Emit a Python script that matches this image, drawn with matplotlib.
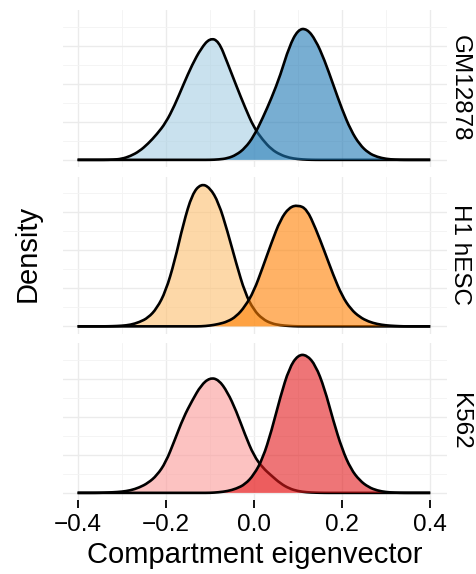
import matplotlib
matplotlib.use("Agg")
import matplotlib.pyplot as plt
from matplotlib.path import Path
from matplotlib.patches import PathPatch

plt.rcParams['font.family'] = ['Liberation Sans', 'DejaVu Sans']

# ---- data ----
cell_lines = ["GM12878", "H1 hESC", "K562"]

x_grid = [-0.40, -0.38, -0.36, -0.34, -0.32, -0.30, -0.28, -0.26, -0.24, -0.22,
          -0.20, -0.18, -0.16, -0.14, -0.12, -0.10, -0.08, -0.06, -0.04, -0.02,
          0.00, 0.02, 0.04, 0.06, 0.08, 0.10, 0.12, 0.14, 0.16, 0.18,
          0.20, 0.22, 0.24, 0.26, 0.28, 0.30, 0.32, 0.34, 0.36, 0.38, 0.40]

gm_B = [0, 0, 0, 0, 0.01, 0.05, 0.20, 0.45, 0.85, 1.35, 1.95, 2.85, 3.95, 5.00,
        5.85, 6.40, 6.25, 5.10, 3.90, 2.75, 1.70, 1.05, 0.55, 0.27, 0.11, 0.04,
        0.01, 0, 0, 0, 0, 0, 0, 0, 0, 0, 0, 0, 0, 0, 0]
gm_A = [0, 0, 0, 0, 0, 0, 0, 0, 0, 0, 0, 0, 0, 0, 0, 0, 0.02, 0.08, 0.26, 0.62,
        1.25, 2.20, 3.25, 4.45, 5.95, 6.85, 6.90, 6.30, 5.25, 3.95, 2.65, 1.55,
        0.80, 0.36, 0.15, 0.05, 0.01, 0, 0, 0, 0]
h1_B = [0, 0, 0, 0, 0.01, 0.03, 0.08, 0.22, 0.45, 0.95, 1.85, 3.40, 5.40, 6.95,
        7.50, 7.30, 6.50, 5.00, 3.30, 1.75, 0.85, 0.38, 0.15, 0.06, 0.02, 0,
        0, 0, 0, 0, 0, 0, 0, 0, 0, 0, 0, 0, 0, 0, 0]
h1_A = [0, 0, 0, 0, 0, 0, 0, 0, 0, 0, 0, 0, 0, 0, 0, 0.04, 0.12, 0.25, 0.52, 1.05,
        1.85, 3.10, 4.40, 5.60, 6.25, 6.38, 6.16, 5.15, 3.95, 2.70, 1.60, 0.90,
        0.49, 0.25, 0.12, 0.05, 0.02, 0, 0, 0, 0]
k5_B = [0, 0, 0, 0.01, 0.03, 0.06, 0.13, 0.28, 0.52, 0.92, 1.60, 2.75, 3.95, 4.85,
        5.65, 6.05, 5.95, 5.30, 4.30, 3.05, 1.95, 1.32, 0.90, 0.50, 0.23, 0.09,
        0.03, 0.01, 0, 0, 0, 0, 0, 0, 0, 0, 0, 0, 0, 0, 0]
k5_A = [0, 0, 0, 0, 0, 0, 0, 0, 0, 0, 0, 0, 0, 0, 0, 0, 0.03, 0.09, 0.22, 0.45,
        0.95, 1.80, 3.26, 5.05, 6.55, 7.25, 7.25, 6.70, 5.50, 3.80, 2.30, 1.25,
        0.65, 0.30, 0.12, 0.04, 0.01, 0, 0, 0, 0]

light_series = [gm_B, h1_B, k5_B]
dark_series = [gm_A, h1_A, k5_A]
light_colors = ["#a6cee3", "#fdbf6f", "#fb9a99"]
dark_colors = ["#1f78b4", "#ff7f00", "#e31a1c"]

x_ticks = [-0.4, -0.2, 0.0, 0.2, 0.4]
x_tick_labels = ["\u22120.4", "\u22120.2", "0.0", "0.2", "0.4"]
x_minor = [-0.3, -0.1, 0.1, 0.3]
y_major = [0, 2, 4, 6]
y_minor = [1, 3, 5, 7]


def density_paths(xs, ys):
    """Smooth outline (quadratic Bezier through data points) + closed fill path."""
    pts = list(zip(xs, ys))
    mids = [((pts[i][0] + pts[i + 1][0]) / 2, (pts[i][1] + pts[i + 1][1]) / 2)
            for i in range(len(pts) - 1)]
    verts = [pts[0], mids[0]]
    codes = [Path.MOVETO, Path.LINETO]
    for i in range(1, len(pts) - 1):
        verts += [pts[i], mids[i]]
        codes += [Path.CURVE3, Path.CURVE3]
    verts.append(pts[-1])
    codes.append(Path.LINETO)
    line = Path(verts, codes)
    fverts = verts + [(xs[-1], 0), (xs[0], 0), (xs[0], 0)]
    fcodes = codes + [Path.LINETO, Path.LINETO, Path.CLOSEPOLY]
    fill = Path(fverts, fcodes)
    return line, fill


# ---- figure ----
W, H = 477, 574
fig = plt.figure(figsize=(W / 100, H / 100), dpi=100)

left_px, width_px = 63, 384
tops_px = [10, 176.5, 343]
height_px = 157

ymax = max(max(s) for s in light_series + dark_series)
ylo, yhi = -0.05 * ymax, 1.05 * ymax

for i, name in enumerate(cell_lines):
    top = tops_px[i]
    ax = fig.add_axes([left_px / W, 1 - (top + height_px) / H, width_px / W, height_px / H])
    ax.set_xlim(-0.433, 0.438)
    ax.set_ylim(ylo, yhi)
    ax.set_xticks(x_ticks)
    ax.set_xticks(x_minor, minor=True)
    ax.set_yticks(y_major)
    ax.set_yticks(y_minor, minor=True)
    ax.grid(which='major', color='#ebebeb', linewidth=1.0, zorder=0)
    ax.grid(which='minor', color='#f3f3f3', linewidth=0.6, zorder=0)
    ax.set_axisbelow(True)
    for sp in ax.spines.values():
        sp.set_visible(False)
    ax.tick_params(axis='y', which='both', left=False, labelleft=False)
    ax.tick_params(axis='x', which='minor', length=0)
    if i < 2:
        ax.tick_params(axis='x', which='major', bottom=False, labelbottom=False)
    else:
        ax.set_xticklabels(x_tick_labels)
        ax.tick_params(axis='x', which='major', length=6, width=1.3, color='black',
                       labelsize=17.5, labelcolor='black', pad=4)

    for ys, col, z in ((light_series[i], light_colors[i], 2),
                       (dark_series[i], dark_colors[i], 4)):
        line, fill = density_paths(x_grid, ys)
        ax.add_patch(PathPatch(fill, facecolor=col, alpha=0.6, linewidth=0, zorder=z))
        ax.add_patch(PathPatch(line, facecolor='none', edgecolor='black',
                               linewidth=1.9, zorder=z + 1, joinstyle='round',
                               capstyle='butt'))

    fig.text(460 / W, 1 - (top + height_px / 2) / H, name, rotation=270,
             ha='center', va='center', fontsize=17.5, color='black')

fig.text(255 / W, 1 - 563 / H, "Compartment eigenvector", ha='center', va='baseline',
         fontsize=21, color='black')
fig.text(28 / W, 1 - 253 / H, "Density", rotation=90, ha='center', va='center',
         fontsize=21, color='black')

fig.savefig("out.png", dpi=100)
